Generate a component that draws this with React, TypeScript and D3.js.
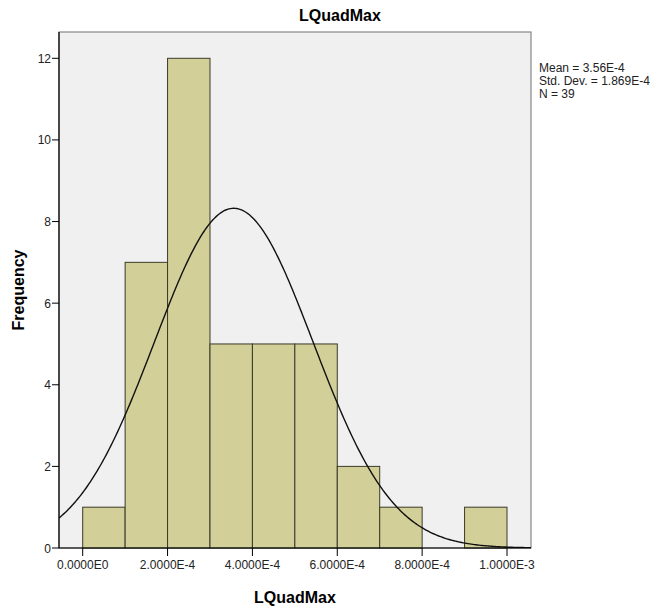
import React from "react";
import * as d3 from "d3";

const binStarts = [0, 0.0001, 0.0002, 0.0003, 0.0004, 0.0005, 0.0006, 0.0007, 0.0008, 0.0009];
const counts = [1, 7, 12, 5, 5, 5, 2, 1, 0, 1];
const binWidth = 0.0001;
const xTicks = [0, 0.0002, 0.0004, 0.0006, 0.0008, 0.001];
const xTickLabels = ["0.0000E0", "2.0000E-4", "4.0000E-4", "6.0000E-4", "8.0000E-4", "1.0000E-3"];
const yTicks = [0, 2, 4, 6, 8, 10, 12];
const mean = 3.56e-4;
const sd = 1.869e-4;
const n = 39;
const legendLines = ["Mean = 3.56E-4", "Std. Dev. = 1.869E-4", "N = 39"];

export default function App() {
  const W = 657, H = 612;
  const left = 59, right = 531, top = 32, bottom = 548;
  const x0px = 82.7, x1px = 507;
  const pxPerUnit = (x1px - x0px) / 0.001;
  const x = d3.scaleLinear()
    .domain([(left - x0px) / pxPerUnit, (right - x0px) / pxPerUnit])
    .range([left, right]);
  const yPer = (548 - 58.3) / 12;
  const y = d3.scaleLinear().domain([0, (bottom - top) / yPer]).range([bottom, top]);

  const [dmin, dmax] = x.domain();
  const pts: [number, number][] = [];
  for (let i = 0; i <= 300; i++) {
    const v = dmin + (dmax - dmin) * i / 300;
    const dens = Math.exp(-0.5 * ((v - mean) / sd) ** 2) / (sd * Math.sqrt(2 * Math.PI));
    pts.push([v, dens * n * binWidth]);
  }
  const line = d3.line<[number, number]>().x(d => x(d[0])).y(d => y(d[1]));
  const font = "'Liberation Sans', Arial, sans-serif";

  return (
    <svg width={W} height={H} style={{ position: "absolute", left: 0, top: 0 }}>
      <rect x={0} y={0} width={W} height={H} fill="#ffffff" />
      <text x={340} y={21} textAnchor="middle" fontFamily={font} fontWeight="bold" fontSize={16} fill="#000">LQuadMax</text>
      <rect x={left} y={top} width={right - left} height={bottom - top} fill="#f0f0f0" stroke="#888" strokeWidth={1.2} />
      {binStarts.map((b, i) => counts[i] > 0 ? (
        <rect key={i} x={x(b)} y={y(counts[i])} width={x(b + binWidth) - x(b)} height={y(0) - y(counts[i])}
          fill="#d3cf98" stroke="#3a3a2a" strokeWidth={1} />
      ) : null)}
      <defs>
        <clipPath id="plotclip"><rect x={left} y={top} width={right - left} height={bottom - top} /></clipPath>
      </defs>
      <path d={line(pts) || ""} fill="none" stroke="#111" strokeWidth={1.4} clipPath="url(#plotclip)" />
      <line x1={left} y1={top} x2={left} y2={bottom} stroke="#000" strokeWidth={1.2} />
      <line x1={left} y1={bottom} x2={right} y2={bottom} stroke="#000" strokeWidth={1.2} />
      {yTicks.map(t => (
        <g key={t}>
          <line x1={left - 7} x2={left} y1={y(t)} y2={y(t)} stroke="#000" strokeWidth={1} />
          <text x={left - 8} y={y(t) + 4.5} textAnchor="end" fontFamily={font} fontSize={12} fill="#222">{t}</text>
        </g>
      ))}
      {xTicks.map((t, i) => (
        <g key={i}>
          <line x1={x(t)} x2={x(t)} y1={bottom} y2={bottom + 8} stroke="#000" strokeWidth={1} />
          <text x={x(t)} y={bottom + 21} textAnchor="middle" fontFamily={font} fontSize={12} fill="#222">{xTickLabels[i]}</text>
        </g>
      ))}
      <text x={295} y={603} textAnchor="middle" fontFamily={font} fontWeight="bold" fontSize={16} fill="#000">LQuadMax</text>
      <text transform={`translate(24,${290}) rotate(-90)`} textAnchor="middle" fontFamily={font} fontWeight="bold" fontSize={16} fill="#000">Frequency</text>
      {legendLines.map((s, i) => (
        <text key={i} x={539} y={72 + i * 13} fontFamily={font} fontSize={12} fill="#222">{s}</text>
      ))}
    </svg>
  );
}
